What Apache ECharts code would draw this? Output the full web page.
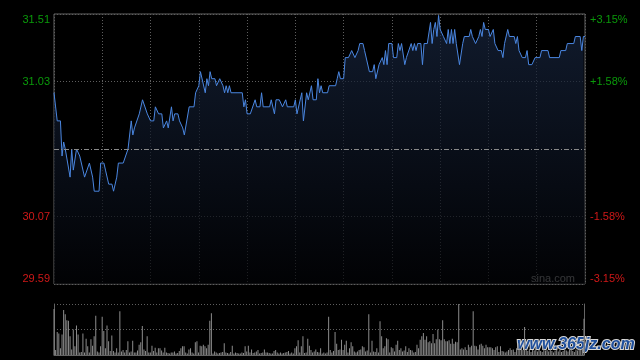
<!DOCTYPE html>
<html>
<head>
<meta charset="utf-8">
<script src="https://cdn.jsdelivr.net/npm/echarts@6/dist/echarts.min.js"></script>
<style>
html,body{margin:0;padding:0;background:#000;}
#c{width:640px;height:360px;}
</style>
</head>
<body>
<div id="c"></div>
<script>
// previous close (centre line)
const prevClose = 30.55;
// left / right tick labels, bottom to top
const leftTickLabels = ['29.59', '30.07', '', '31.03', '31.51'];
const rightTickLabels = ['-3.15%', '-1.58%', '', '+1.58%', '+3.15%'];
// intraday price: [minute index, price]
const pricePoints = [
[0,30.95],[2,30.75],[4,30.75],[5,30.50],[6,30.60],[7,30.55],[8,30.55],[10,30.35],[11,30.55],[12,30.40],
[14,30.55],[15,30.55],[16,30.50],[17,30.50],[19,30.35],[20,30.35],[22,30.45],[23,30.45],[24,30.35],[25,30.25],
[28,30.25],[29,30.45],[31,30.45],[32,30.40],[34,30.30],[36,30.30],[37,30.25],[39,30.35],[40,30.45],[43,30.45],
[46,30.55],[48,30.75],[49,30.65],[50,30.70],[51,30.70],[53,30.80],[55,30.90],[56,30.90],[58,30.80],[59,30.80],
[60,30.75],[62,30.75],[63,30.85],[64,30.85],[65,30.80],[67,30.80],[68,30.70],[70,30.75],[71,30.70],[72,30.70],
[73,30.85],[74,30.75],[75,30.80],[77,30.80],[78,30.75],[79,30.75],[80,30.70],[81,30.65],[82,30.65],[84,30.85],
[87,30.85],[88,30.95],[89,30.95],[90,31.00],[91,31.10],[92,31.10],[94,30.95],[95,31.05],[96,31.00],[97,31.10],
[98,31.05],[100,31.05],[101,31.00],[103,31.05],[104,31.05],[105,31.00],[106,30.95],[107,31.00],[108,30.95],[109,31.00],
[110,30.95],[117,30.95],[118,30.85],[119,30.90],[120,30.80],[122,30.80],[125,30.90],[126,30.85],[128,30.85],[129,30.95],
[130,30.85],[134,30.85],[135,30.90],[137,30.80],[138,30.90],[140,30.90],[142,30.85],[143,30.85],[144,30.90],[145,30.85],
[149,30.85],[150,30.90],[151,30.80],[152,30.80],[154,30.95],[155,30.75],[157,30.95],[158,30.90],[159,30.90],[160,31.00],
[161,30.90],[163,30.90],[164,31.05],[165,30.95],[166,31.00],[167,30.95],[170,30.95],[171,31.00],[175,31.00],[176,31.05],
[177,31.10],[178,31.05],[180,31.05],[181,31.20],[183,31.20],[185,31.25],[186,31.25],[187,31.20],[189,31.25],[190,31.30],
[192,31.30],[193,31.25],[196,31.10],[198,31.10],[199,31.15],[200,31.05],[202,31.15],[203,31.15],[204,31.20],[205,31.15],
[206,31.25],[207,31.15],[208,31.30],[210,31.30],[211,31.20],[213,31.20],[214,31.30],[215,31.25],[216,31.30],[217,31.30],
[218,31.15],[219,31.20],[220,31.20],[222,31.30],[223,31.25],[224,31.30],[225,31.25],[226,31.30],[228,31.30],[229,31.15],
[230,31.30],[232,31.30],[234,31.45],[235,31.30],[236,31.40],[237,31.45],[238,31.35],[239,31.50],[240,31.40],[241,31.40],
[242,31.35],[244,31.30],[245,31.40],[246,31.30],[247,31.40],[248,31.30],[249,31.40],[250,31.30],[251,31.30],[252,31.15],
[254,31.30],[255,31.35],[258,31.35],[259,31.40],[260,31.35],[261,31.35],[262,31.30],[264,31.35],[265,31.40],[266,31.35],
[267,31.45],[268,31.40],[270,31.40],[271,31.35],[272,31.35],[273,31.40],[274,31.30],[275,31.30],[276,31.25],[278,31.25],
[279,31.20],[280,31.30],[281,31.30],[282,31.40],[283,31.35],[286,31.35],[287,31.30],[288,31.35],[289,31.25],[290,31.25],
[291,31.20],[293,31.20],[294,31.25],[295,31.15],[297,31.15],[299,31.20],[302,31.20],[303,31.25],[307,31.25],[308,31.20],
[314,31.20],[315,31.25],[318,31.25],[319,31.30],[323,31.30],[324,31.35],[327,31.35],[328,31.25],[329,31.35],[330,31.35]
];
// per-minute volume (relative units, panel top = 100)
const volumes = [
90,10,45,42,13,40,88,80,68,67,
37,11,50,17,58,40,5,6,42,5,
32,17,5,31,18,37,77,7,5,17,
75,47,13,58,27,8,38,8,5,13,
5,86,7,10,5,10,27,5,7,28,
5,5,9,20,25,57,11,8,37,5,
5,18,8,14,5,13,13,9,5,14,
5,4,3,5,5,7,3,4,8,13,
17,17,5,3,11,13,5,3,25,27,
5,18,17,20,17,13,20,67,82,3,
7,5,3,4,5,6,23,5,4,3,
6,18,3,5,4,3,3,5,4,17,
7,18,5,11,4,5,7,10,3,4,
5,11,5,5,4,3,3,8,10,5,
3,5,3,4,5,6,8,3,5,3,
13,17,29,5,17,37,4,5,32,18,
10,5,7,11,6,5,13,3,5,3,
5,75,10,5,8,45,22,10,11,30,
10,20,28,5,13,25,17,7,5,7,
10,11,17,15,7,9,80,5,28,7,
6,13,5,66,37,13,17,33,31,5,
15,13,7,20,28,10,13,7,9,17,
6,13,10,9,5,6,20,13,30,37,
43,30,37,25,27,23,41,23,31,50,
31,29,68,31,27,27,29,22,32,22,
26,25,100,11,13,11,15,10,20,15,
18,86,18,17,11,20,22,18,13,20,
15,15,15,13,10,15,17,6,17,8,
7,5,7,10,13,10,11,6,13,23,
13,13,10,55,11,8,12,6,10,9,
14,7,11,8,6,13,9,10,7,12,
8,5,9,11,7,10,6,8,12,9,
7,10,14,8,6,11,9,13,10,12,
71
];

const FONT = '"Liberation Sans", Arial, sans-serif';
const GREEN = '#0a9a0a', RED = '#d01818';
const GRIDC = '#5e5e5e', BORDER = '#646464';
const idxOf = v => Math.round((parseFloat(v) + 0.96) / 0.48);
const colorOf = v => parseFloat(v) > 0.001 ? GREEN : (parseFloat(v) < -0.001 ? RED : '#888');

const priceData = pricePoints.map(p => [p[0], +(p[1] - prevClose).toFixed(2)]);
const volData = volumes.map((v, i) => [i, v]);

const chart = echarts.init(document.getElementById('c'), null, {renderer: 'canvas'});
chart.setOption({
  backgroundColor: '#000',
  animation: false,
  grid: [
    {left: 54, top: 14, width: 531, height: 270, show: true, borderColor: BORDER, borderWidth: 1, backgroundColor: 'transparent'},
    {left: 54, top: 304, width: 530, height: 51, show: false}
  ],
  xAxis: [
    {type: 'value', gridIndex: 0, min: 0, max: 330, interval: 30,
     axisLine: {show: false}, axisTick: {show: false}, axisLabel: {show: false},
     splitLine: {show: true, lineStyle: {color: GRIDC, type: [1, 2], width: 1}}},
    {type: 'value', gridIndex: 1, min: 0, max: 330, interval: 30,
     axisLine: {show: true, onZero: false, lineStyle: {color: BORDER}}, axisTick: {show: false}, axisLabel: {show: false},
     splitLine: {show: false}}
  ],
  yAxis: [
    {type: 'value', gridIndex: 0, min: -0.96, max: 0.96, interval: 0.48, position: 'left',
     axisLine: {show: false}, axisTick: {show: false},
     axisLabel: {margin: 4, fontSize: 11, fontFamily: FONT,
       formatter: v => leftTickLabels[idxOf(v)] || '',
       color: v => colorOf(v),
       verticalAlignMaxLabel: 'top', verticalAlignMinLabel: 'bottom'},
     splitLine: {show: true, lineStyle: {color: [GRIDC, GRIDC, 'rgba(0,0,0,0)', GRIDC, GRIDC], type: [1, 2], width: 1}}},
    {type: 'value', gridIndex: 0, min: -0.96, max: 0.96, interval: 0.48, position: 'right',
     axisLine: {show: false}, axisTick: {show: false},
     axisLabel: {margin: 5, fontSize: 11, fontFamily: FONT,
       formatter: v => rightTickLabels[idxOf(v)] || '',
       color: v => colorOf(v),
       verticalAlignMaxLabel: 'top', verticalAlignMinLabel: 'bottom'},
     splitLine: {show: false}},
    {type: 'value', gridIndex: 1, min: 0, max: 100, interval: 50, position: 'left',
     axisLine: {show: true, lineStyle: {color: BORDER}}, axisTick: {show: false}, axisLabel: {show: false},
     splitLine: {show: true, lineStyle: {color: GRIDC, type: [1, 2], width: 1}}},
    {type: 'value', gridIndex: 1, min: 0, max: 100, interval: 50, position: 'right',
     axisLine: {show: true, lineStyle: {color: BORDER}}, axisTick: {show: false}, axisLabel: {show: false},
     splitLine: {show: false}}
  ],
  series: [
    {type: 'line', xAxisIndex: 0, yAxisIndex: 0, data: priceData, showSymbol: false, symbol: 'none',
     lineStyle: {color: '#4a86e0', width: 1},
     areaStyle: {origin: 'start', color: new echarts.graphic.LinearGradient(0, 0, 0, 1, [
       {offset: 0, color: '#182640'}, {offset: 1, color: '#020306'}])},
     markLine: {silent: true, symbol: 'none', label: {show: false},
       data: [{yAxis: 0}],
       lineStyle: {color: '#8a8a8a', type: [5, 2, 1, 2], width: 1}}
    },
    {type: 'bar', xAxisIndex: 1, yAxisIndex: 2, data: volData, barWidth: 1,
     itemStyle: {color: '#8c8c8c'}}
  ],
  graphic: [
    {type: 'text', left: 531, top: 273, silent: true,
     style: {text: 'sina.com', fill: '#a8a8a8', font: '11px ' + FONT}},
    {type: 'text', left: 516, top: 336, silent: true,
     style: {text: 'www.365jz.com', fill: '#1f4f9c', stroke: '#d8d8d8', lineWidth: 2,
             font: 'italic bold 16px ' + FONT}}
  ]
});
</script>
</body>
</html>
